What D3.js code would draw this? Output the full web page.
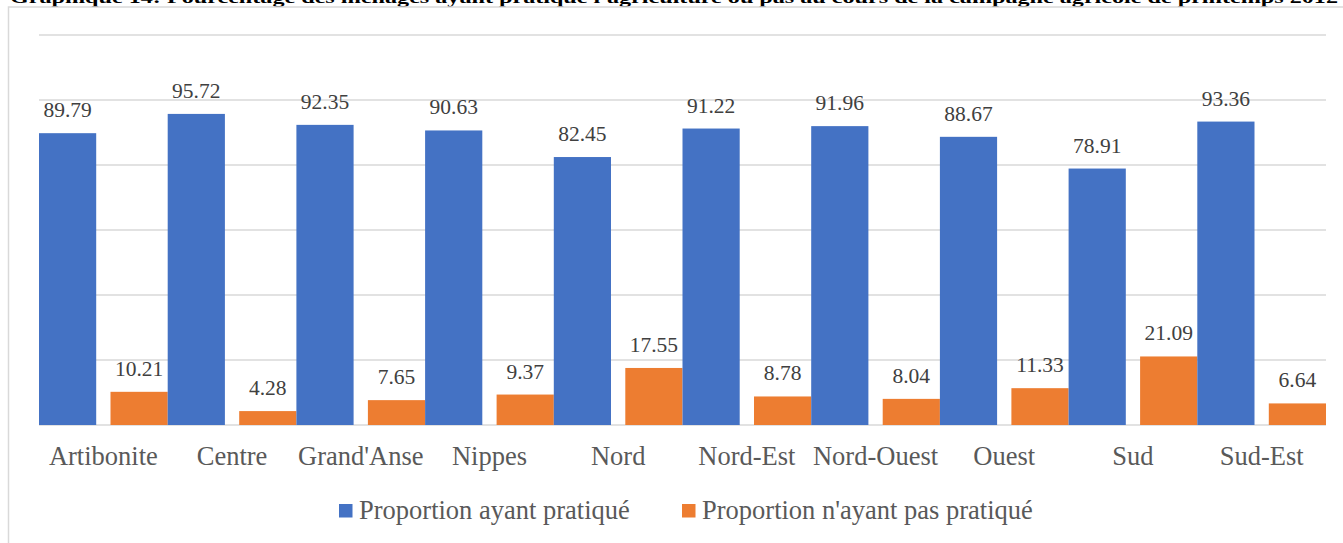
<!DOCTYPE html>
<html>
<head>
<meta charset="utf-8">
<script src="https://cdn.jsdelivr.net/npm/d3@7"></script>
<style>
  html, body { margin: 0; padding: 0; background: #fff; overflow: hidden; }
</style>
</head>
<body>
<div id="graph"></div>
<script>
// Data_____________________________________________________
const categories = ['Artibonite', 'Centre', "Grand'Anse", 'Nippes', 'Nord', 'Nord-Est', 'Nord-Ouest', 'Ouest', 'Sud', 'Sud-Est'];
const pratique = [89.79, 95.72, 92.35, 90.63, 82.45, 91.22, 91.96, 88.67, 78.91, 93.36];
const pasPratique = [10.21, 4.28, 7.65, 9.37, 17.55, 8.78, 8.04, 11.33, 21.09, 6.64];
const seriesNames = ['Proportion ayant pratiqué', "Proportion n'ayant pas pratiqué"];
const yTicks = [0, 20, 40, 60, 80, 100, 120];
const title = "Graphique 14: Pourcentage des ménages ayant pratiqué l'agriculture ou pas au cours de la campagne agricole de printemps 2012";

// Variables_________________________________________________
const width = 1343;
const height = 543;
const plotLeft = 39;
const plotRight = 1326;
const plotTop = 35;
const plotBottom = 425;
const serif = '"Liberation Serif", "Times New Roman", Times, serif';
const colors = ['#4472C4', '#ED7D31'];
const rows = categories.map((c, i) => ({ cat: c, values: [pratique[i], pasPratique[i]] }));

const svg = d3.select('#graph')
    .append('svg')
    .attr('width', width)
    .attr('height', height)
    .attr('font-family', serif)
    .style('display', 'block');

// Title (cut off at the top, as in the source) and frame___
svg.append('text')
    .attr('x', 10)
    .attr('y', 3)
    .attr('font-size', 17)
    .attr('font-weight', 'bold')
    .attr('font-family', serif)
    .attr('fill', '#000')
    .attr('textLength', 1328)
    .attr('lengthAdjust', 'spacingAndGlyphs')
    .text(title);

svg.append('rect')
    .attr('x', 8.5)
    .attr('y', 7)
    .attr('width', width + 20)
    .attr('height', height + 20)
    .attr('fill', 'none')
    .attr('stroke', '#D9D9D9')
    .attr('stroke-width', 1.5);

// Scales______________________________________________________
const xScale = d3.scaleBand()
    .domain(categories)
    .range([plotLeft, plotRight])
    .paddingInner(0)
    .paddingOuter(0);
const xSub = d3.scaleBand()
    .domain([0, 1])
    .range([0, xScale.bandwidth()])
    .paddingInner(0.2)
    .paddingOuter(0);
const yScale = d3.scaleLinear()
    .domain([0, 120])
    .range([plotBottom, plotTop]);

// Gridlines____________________________________________________
svg.append('g')
    .selectAll('line')
    .data(yTicks)
    .enter()
    .append('line')
    .attr('x1', plotLeft)
    .attr('x2', plotRight)
    .attr('y1', d => yScale(d))
    .attr('y2', d => yScale(d))
    .attr('stroke', '#D9D9D9')
    .attr('stroke-width', 1.5);

// Bars_________________________________________________________
const groups = svg.append('g')
    .selectAll('g')
    .data(rows)
    .enter()
    .append('g')
    .attr('transform', d => `translate(${xScale(d.cat)}, 0)`);

groups.selectAll('rect')
    .data(d => d.values.map((v, i) => ({ v: v, i: i })))
    .enter()
    .append('rect')
    .attr('x', d => xSub(d.i))
    .attr('width', xSub.bandwidth())
    .attr('y', d => yScale(d.v))
    .attr('height', d => yScale(0) - yScale(d.v))
    .attr('fill', d => colors[d.i]);

groups.selectAll('text')
    .data(d => d.values.map((v, i) => ({ v: v, i: i })))
    .enter()
    .append('text')
    .attr('x', d => xSub(d.i) + xSub.bandwidth() / 2)
    .attr('y', d => yScale(d.v) - 16)
    .attr('text-anchor', 'middle')
    .attr('font-size', 21.5)
    .attr('font-family', serif)
    .attr('fill', '#404040')
    .text(d => d.v.toFixed(2));

// X axis labels________________________________________________
const xAxis = d3.axisBottom(xScale).tickSize(0).tickPadding(0);
const gx = svg.append('g')
    .attr('transform', `translate(0, ${plotBottom})`)
    .call(xAxis)
    .attr('font-family', serif);
gx.select('.domain').remove();
gx.selectAll('text')
    .attr('dy', null)
    .attr('y', 40)
    .attr('font-size', 26.5)
    .attr('fill', '#595959');

// Legend_______________________________________________________
const legendX = [339, 682];
const legend = svg.append('g')
    .selectAll('g')
    .data(seriesNames)
    .enter()
    .append('g')
    .attr('transform', (d, i) => `translate(${legendX[i]}, 504)`);
legend.append('rect')
    .attr('width', 13.5)
    .attr('height', 13.5)
    .attr('fill', (d, i) => colors[i]);
legend.append('text')
    .attr('x', 20)
    .attr('y', 15)
    .attr('font-size', 26.5)
    .attr('font-family', serif)
    .attr('fill', '#595959')
    .text(d => d);
</script>
</body>
</html>
